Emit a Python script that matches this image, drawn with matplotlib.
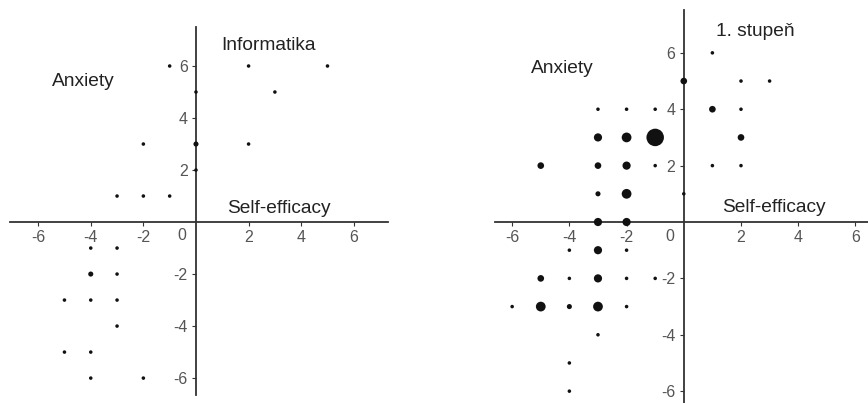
import matplotlib
matplotlib.use("Agg")
import matplotlib.pyplot as plt

plt.rcParams['font.family'] = ['Liberation Sans', 'DejaVu Sans']
plt.rcParams['axes.unicode_minus'] = False

# left panel: Informatika (self-efficacy, anxiety, frequency)
inf_x = [-1, 2, 5, 0, 3, -2, 0, 2, 0, -3, -2, -1,
         -4, -3, -4, -3, -5, -4, -3, -3, -5, -4, -4, -2]
inf_y = [6, 6, 6, 5, 5, 3, 3, 3, 2, 1, 1, 1,
         -1, -1, -2, -2, -3, -3, -3, -4, -5, -5, -6, -6]
inf_n = [1, 1, 1, 1, 1, 1, 2, 1, 1, 1, 1, 1,
         1, 1, 2, 1, 1, 1, 1, 1, 1, 1, 1, 1]

# right panel: 1. stupeň
st_x = [1, 0, 2, 3,
        -3, -2, -1, 1, 2,
        -3, -2, -1, 2,
        -5, -3, -2, -1, 1, 2,
        0, -3, -2,
        -3, -2,
        -4, -3, -2,
        -5, -4, -3, -2, -1,
        -6, -5, -4, -3, -2,
        -3, -4, -4]
st_y = [6, 5, 5, 5,
        4, 4, 4, 4, 4,
        3, 3, 3, 3,
        2, 2, 2, 2, 2, 2,
        1, 1, 1,
        0, 0,
        -1, -1, -1,
        -2, -2, -2, -2, -2,
        -3, -3, -3, -3, -3,
        -4, -5, -6]
st_n = [1, 3, 1, 1,
        1, 1, 1, 3, 1,
        4, 5, 10, 3,
        3, 3, 4, 1, 1, 1,
        1, 2, 5,
        4, 4,
        1, 4, 1,
        3, 1, 4, 1, 1,
        1, 5, 2, 5, 1,
        1, 1, 1]

tick_vals = [-6, -4, -2, 2, 4, 6]
axis_col = '#333333'
label_col = '#555555'


def sizes(counts):
    # diameter in pixels grows with frequency, converted to points^2
    return [((2.0 + 1.55 * c) * 0.72) ** 2 for c in counts]


def draw(ax, xs, ys, ns, title, xlim, ylim, title_pos, anx_pos, se_pos, zero_pos):
    ax.set_xlim(*xlim)
    ax.set_ylim(*ylim)
    for s in ['top', 'right']:
        ax.spines[s].set_visible(False)
    for s in ['left', 'bottom']:
        ax.spines[s].set_position('zero')
        ax.spines[s].set_color(axis_col)
        ax.spines[s].set_linewidth(1.3)
    ax.set_xticks(tick_vals)
    ax.set_yticks(tick_vals)
    ax.tick_params(axis='both', direction='out', length=3, width=0.8,
                   color=axis_col, labelcolor=label_col, labelsize=11.5, pad=3)
    ax.scatter(xs, ys, s=sizes(ns), color='#111111', zorder=3, linewidths=0)
    ax.text(zero_pos[0], zero_pos[1], '0', ha='center', va='center',
            color=label_col, fontsize=11.5)
    ax.text(title_pos[0], title_pos[1], title, ha='center', va='center',
            fontsize=13.8, color='#222222')
    ax.text(anx_pos[0], anx_pos[1], 'Anxiety', ha='center', va='center',
            fontsize=13.8, color='#222222')
    ax.text(se_pos[0], se_pos[1], 'Self-efficacy', ha='center', va='center',
            fontsize=13.8, color='#222222')


fig = plt.figure(figsize=(8.68, 4.03), dpi=100)
ax1 = fig.add_axes([10 / 868, 8 / 403, 378 / 868, 368 / 403])
ax2 = fig.add_axes([495 / 868, 0.0, 373 / 868, 393 / 403])

draw(ax1, inf_x, inf_y, inf_n, 'Informatika', (-7.07, 7.3), (-6.65, 7.5),
     (2.74, 6.8), (-4.3, 5.42), (3.16, 0.54), (-0.53, -0.5))
draw(ax2, st_x, st_y, st_n, '1. stupeň', (-6.6, 6.44), (-6.42, 7.52),
     (2.5, 6.74), (-4.23, 5.43), (3.15, 0.5), (-0.49, -0.53))

fig.savefig('out.png', dpi=100)
